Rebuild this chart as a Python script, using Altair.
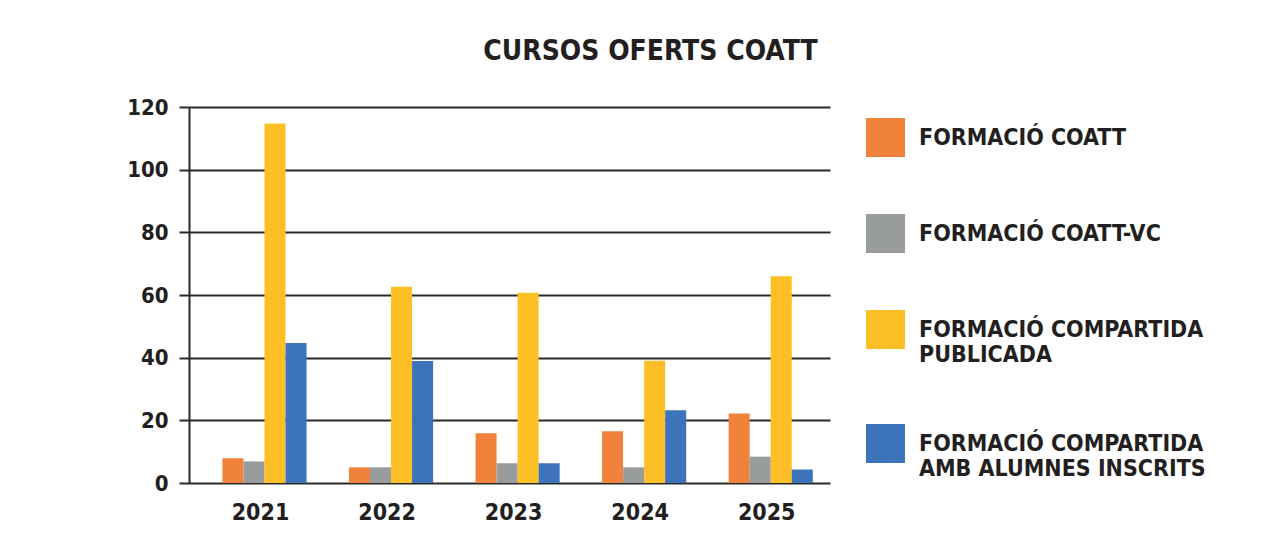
import altair as alt
import pandas as pd

FONT = "'Liberation Sans Narrow', 'DejaVu Sans Condensed', 'Roboto Condensed', sans-serif"
INK = "#231F20"

years = ["2021", "2022", "2023", "2024", "2025"]
series = [
    "FORMACIÓ COATT",
    "FORMACIÓ COATT-VC",
    "FORMACIÓ COMPARTIDA\nPUBLICADA",
    "FORMACIÓ COMPARTIDA\nAMB ALUMNES INSCRITS",
]
formacio_coatt = [7.9, 5.0, 15.9, 16.5, 22.2]
formacio_coatt_vc = [6.9, 5.0, 6.3, 5.0, 8.4]
compartida_publicada = [114.7, 62.6, 60.7, 39.0, 66.0]
compartida_inscrits = [44.7, 38.9, 6.3, 23.2, 4.3]
colors = ["#F0823C", "#999C9C", "#FDBF26", "#3D73BA"]
y_ticks = [0, 20, 40, 60, 80, 100, 120]

values = [formacio_coatt, formacio_coatt_vc, compartida_publicada, compartida_inscrits]
rows = []
for s, vals in zip(series, values):
    for yr, v in zip(years, vals):
        rows.append({"year": yr, "series": s, "value": v})
df = pd.DataFrame(rows)

chart = (
    alt.Chart(df)
    .mark_bar()
    .encode(
        x=alt.X(
            "year:N",
            sort=years,
            scale=alt.Scale(paddingInner=0.335, paddingOuter=0.2, align=0.66),
            axis=alt.Axis(
                title=None, labelAngle=0, ticks=False, domain=False,
                labelFont=FONT, labelFontSize=23, labelFontWeight="bold",
                labelColor=INK, labelPadding=18, labelOffset=-4,
            ),
        ),
        xOffset=alt.XOffset("series:N", sort=series, scale=alt.Scale(domain=series, paddingInner=0)),
        y=alt.Y(
            "value:Q",
            scale=alt.Scale(domain=[0, 120], nice=False),
            axis=alt.Axis(
                title=None, values=y_ticks, tickSize=10, tickColor="#2a2a2a", tickWidth=2,
                gridColor="#2a2a2a", gridWidth=2, gridOpacity=1,
                domainColor="#2a2a2a", domainWidth=2,
                labelFont=FONT, labelFontSize=22, labelFontWeight="bold",
                labelColor=INK, labelPadding=11, minExtent=176,
            ),
        ),
        color=alt.Color(
            "series:N",
            sort=series,
            scale=alt.Scale(domain=series, range=colors),
            legend=alt.Legend(
                title=None, orient="none", legendX=677, legendY=11,
                symbolType="square", symbolSize=1521, symbolStrokeWidth=0,
                labelFont=FONT, labelFontSize=23, labelFontWeight="bold",
                labelColor=INK, labelLimit=500, labelOffset=14, rowPadding=57,
                labelExpr="split(datum.label, '\\n')",
            ),
        ),
    )
    .properties(
        width=641,
        height=376,
        padding={"left": 5, "top": 30, "right": 5, "bottom": 5},
        title=alt.TitleParams(
            "CURSOS OFERTS COATT", font=FONT, fontSize=28, fontWeight="bold",
            color=INK, anchor="middle", offset=30, dx=141,
        ),
    )
    .configure(background="white")
    .configure_view(strokeWidth=0)
)

chart.save("out.html", embed_options={"renderer": "svg", "actions": False})
